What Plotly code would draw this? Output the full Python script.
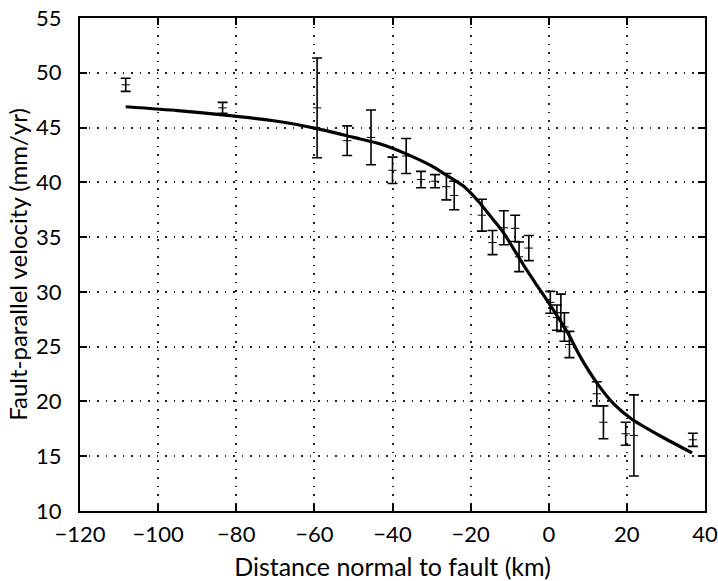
import plotly.graph_objects as go

# GPS observations: distance normal to fault (km), velocity (mm/yr), 1-sigma error
obs_x = [-108.3, -83.5, -59.3, -51.6, -45.5, -40.0, -36.5, -32.7, -29.1, -26.2, -24.2,
         -17.1, -14.4, -11.5, -8.6, -7.6, -5.1, 0.4, 2.1, 3.1, 4.0, 5.3,
         12.3, 14.0, 19.7, 21.8, 36.9]
obs_v = [48.9, 46.8, 46.8, 43.8, 44.1, 41.1, 42.4, 40.25, 40.1, 39.6, 38.8,
         37.0, 34.5, 35.85, 35.8, 33.2, 34.0, 29.05, 27.65, 28.1, 26.8, 25.2,
         20.7, 18.1, 17.05, 16.9, 16.5]
obs_err = [0.6, 0.5, 4.55, 1.35, 2.5, 1.2, 1.6, 0.75, 0.6, 1.2, 1.3,
           1.45, 1.1, 1.55, 1.2, 1.35, 1.15, 1.0, 1.15, 1.7, 1.3, 1.2,
           1.1, 1.5, 1.05, 3.7, 0.6]

# Model curve
model_x = [-108.3, -95, -83.5, -70, -59.3, -50, -43.1, -36.5, -30, -26.6, -22, -18.1,
           -14, -11.3, -6.2, -3.6, 0, 4.8, 8.2, 12.3, 16.7, 21.2, 28.8, 36.7]
model_v = [46.9, 46.55, 46.15, 45.6, 44.9, 44.1, 43.5, 42.6, 41.5, 40.75, 39.7, 38.3,
           36.5, 35.25, 32.3, 30.9, 29.0, 26.3, 24.0, 21.7, 19.75, 18.4, 16.8, 15.3]

x_ticks = [-120, -100, -80, -60, -40, -20, 0, 20, 40]
y_ticks = [10, 15, 20, 25, 30, 35, 40, 45, 50, 55]

FONT = "Lato, Liberation Sans, sans-serif"

fig = go.Figure()
fig.add_trace(go.Scatter(
    x=model_x, y=model_v, mode="lines",
    line=dict(color="black", width=3.2, shape="spline", smoothing=0.6),
    hoverinfo="skip", showlegend=False))
fig.add_trace(go.Scatter(
    x=obs_x, y=obs_v, mode="markers",
    marker=dict(symbol="line-ew", size=6, color="black", line=dict(color="black", width=1)),
    error_y=dict(type="data", array=obs_err, visible=True, color="black",
                 thickness=1.6, width=5),
    showlegend=False))

axis_common = dict(
    showline=True, linecolor="black", linewidth=2, mirror="ticks",
    ticks="inside", ticklen=7, tickwidth=1.5, tickcolor="black",
    showgrid=True, gridcolor="#222", gridwidth=1.5, griddash="1.5px,7px",
    zeroline=False, automargin=False, ticklabeloverflow="allow",
    tickfont=dict(family=FONT, size=22, color="black"),
)

fig.update_xaxes(range=[-120, 40], tickvals=x_ticks, **axis_common,
                 ticklabelstandoff=3,
                 title=dict(text="Distance normal to fault (km)",
                            font=dict(family=FONT, size=25, color="black"), standoff=12))
fig.update_yaxes(range=[10, 55], tickvals=y_ticks, **axis_common,
                 ticklabelstandoff=12,
                 title=dict(text="Fault-parallel velocity (mm/yr)",
                            font=dict(family=FONT, size=24, color="black"), standoff=2))

fig.update_layout(
    width=718, height=581,
    margin=dict(l=80, r=13, t=18, b=70),
    paper_bgcolor="white", plot_bgcolor="white",
)

fig.write_html("out.html")
